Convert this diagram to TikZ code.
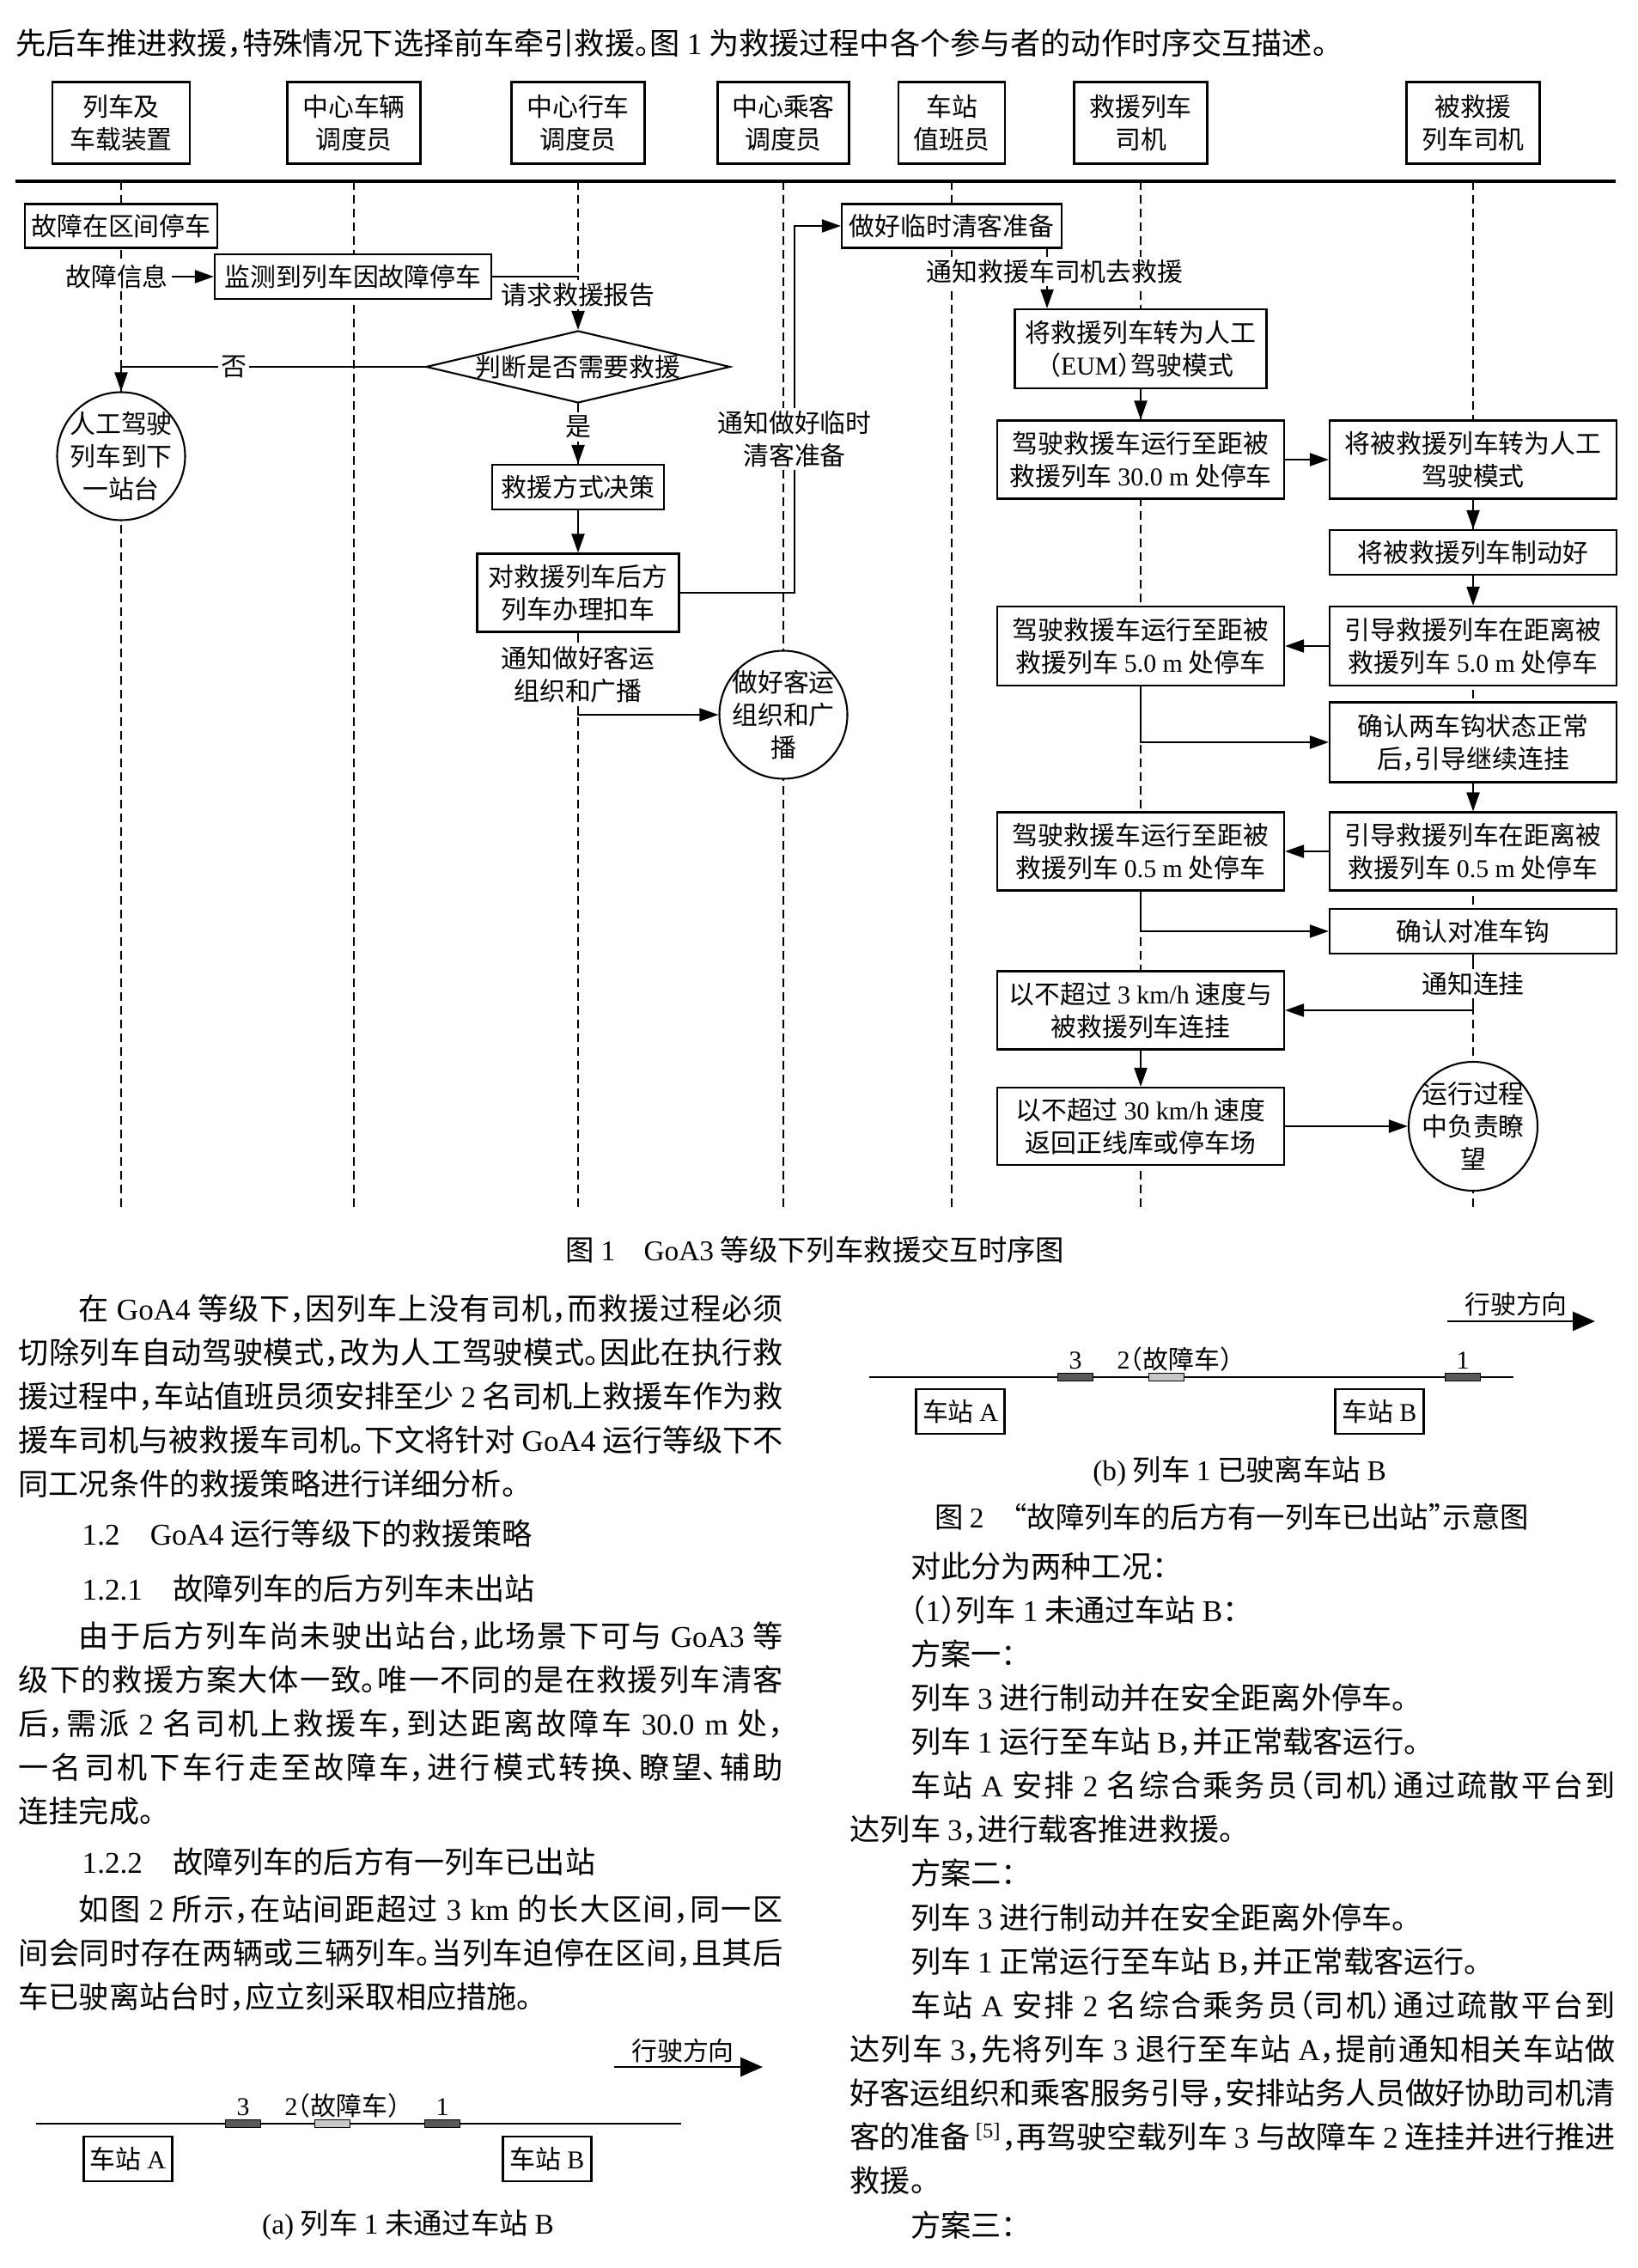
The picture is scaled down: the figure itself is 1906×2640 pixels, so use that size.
\documentclass[tikz,border=0pt]{standalone}
\usepackage{fontspec}
\setmainfont{Noto Sans CJK SC}[RawFeature={+halt}]
\newfontfamily\enfont{Liberation Serif}
\usetikzlibrary{arrows.meta,shapes.geometric,positioning}

\XeTeXlinebreaklocale "zh"
\XeTeXlinebreakskip=0pt plus 1pt minus 0.4pt
\tolerance=10000
\newcommand{\en}[1]{{\enfont #1}}

\begin{document}
\begin{tikzpicture}[
  x=0.1mm, y=-0.1mm,
  txt/.style={font=\fontsize{10}{14.55}\selectfont, inner sep=0pt},
  para/.style={txt, text width=89mm, align=justify, anchor=base west},
  textline/.style={txt, anchor=base west},
  caption/.style={font=\fontsize{9.5}{12}\selectfont, inner sep=0pt},
  dfont/.style={font=\fontsize{8.5}{10.8}\selectfont},
  role/.style={draw, dfont, align=center, line width=0.8pt, minimum width=15.5mm, minimum height=9.5mm, inner sep=0pt},
  box/.style={draw, fill=white, dfont, align=center, line width=0.6pt, minimum width=33.4mm, minimum height=9.1mm, inner sep=0pt},
  decision/.style={draw, fill=white, diamond, dfont, line width=0.6pt, minimum width=35.4mm, minimum height=8.4mm, inner sep=0pt},
  oval/.style={draw, fill=white, circle, dfont, align=center, line width=0.6pt, minimum size=14.9mm, inner sep=-2.5mm},
  lbl/.style={fill=white, dfont, align=center, inner sep=1pt},
  arrow/.style={->, >={Triangle[length=2.2mm, width=1.5mm]}, line width=0.6pt},
  life/.style={dash pattern=on 1mm off 0.6mm, line width=0.4pt},
  track/.style={line width=0.7pt},
  car/.style={draw, line width=0.4pt, minimum width=4.1mm, minimum height=0.9mm, inner sep=0pt},
  stn/.style={draw, dfont, line width=0.6pt, minimum width=10.3mm, minimum height=5.2mm, inner sep=0pt},
  dirarrow/.style={->, >={Triangle[length=2.6mm, width=2.2mm]}, line width=0.8pt},
]
\useasboundingbox (0,0) rectangle (1906,2640);

\node[textline] (lead) at (18,64) {先后车推进救援，特殊情况下选择前车牵引救援。图 \en{1} 为救援过程中各个参与者的动作时序交互描述。};

% --- participants ---
\node[role, minimum width=16mm] (train) at (141,143) {列车及\\车载装置};
\node[role] (vehdisp) at (412,143) {中心车辆\\调度员};
\node[role] (trafdisp) at (673,143) {中心行车\\调度员};
\node[role, minimum width=15.3mm] (paxdisp) at (912,143) {中心乘客\\调度员};
\node[role, minimum width=12.4mm] (station) at (1108,143) {车站\\值班员};
\node[role] (rescdrv) at (1328,143) {救援列车\\司机};
\node[role] (faildrv) at (1715,143) {被救援\\列车司机};

\coordinate (sepL) at (18,211);
\coordinate (sepR) at (1881,211);
\coordinate (lifeEnd) at (0,1407);
\draw[line width=1pt] (sepL) -- (sepR);

% lifelines
\draw[life] (train |- sepL) -- (train |- lifeEnd);
\draw[life] (vehdisp |- sepL) -- (vehdisp |- lifeEnd);
\draw[life] (trafdisp |- sepL) -- (trafdisp |- lifeEnd);
\draw[life] (paxdisp |- sepL) -- (paxdisp |- lifeEnd);
\draw[life] (station |- sepL) -- (station |- lifeEnd);
\draw[life] (rescdrv |- sepL) -- (rescdrv |- lifeEnd);
\draw[life] (faildrv |- sepL) -- (faildrv |- lifeEnd);

% --- fault and decision ---
\node[box, minimum width=22.4mm, minimum height=5.1mm] (fault) at (141,263) {故障在区间停车};
\node[box, minimum width=32.2mm, minimum height=5.2mm] (monitor) at (411,322) {监测到列车因故障停车};
\node[decision] (judge) at (673,427) {\makebox[0pt]{判断是否需要救援}};
\node[oval] (manual) at (141,531) {人工驾驶\\列车到下\\一站台};
\node[box, minimum width=20mm, minimum height=5.2mm] (decide) at (673,567) {救援方式决策};
\node[box, minimum width=23.5mm] (hold) at (673,690) {对救援列车后方\\列车办理扣车};
\node[oval] (service) at (912,832) {做好客运\\组织和广\\播};
\node[box, minimum width=25.6mm, minimum height=5.1mm] (clear) at (1108,263) {做好临时清客准备};
\coordinate (turn) at (925,263);

\node[lbl] (info) at (136,322) {故障信息};
\draw[arrow] (info.east) -- (monitor.west);
\draw[arrow] (monitor.east) -| (judge.north);
\node[lbl] (report) at (673,343) {请求救援报告};
% no -> manual driving
\draw[arrow] (judge.west) -| (manual.north);
\node[lbl] (no) at (272,427) {否};
% yes -> rescue
\draw[arrow] (judge.south) -- (decide.north);
\node[lbl] (yes) at (673,497) {是};
\draw[arrow] (decide.south) -- (hold.north);
\draw[arrow] (hold.east) -| (turn) -- (clear.west);
\node[lbl] (notify1) at (925,511) {通知做好临时\\清客准备};
\draw[arrow] (hold.south) |- (service.west);
\node[lbl] (notify2) at (673,785) {通知做好客运\\组织和广播};

% --- rescue drivers ---
\node[box, minimum width=29.3mm, minimum height=9.2mm] (eum) at (1328,406) {将救援列车转为人工\\（\en{EUM}）驾驶模式};
\node[box] (d30) at (1328,535) {驾驶救援车运行至距被\\救援列车 \en{30.0 m} 处停车};
\node[box] (m1) at (1715,535) {将被救援列车转为人工\\驾驶模式};
\node[box, minimum height=5.2mm] (brake) at (1715,643) {将被救援列车制动好};
\node[box, minimum height=9.2mm] (g5) at (1715,752) {引导救援列车在距离被\\救援列车 \en{5.0 m} 处停车};
\node[box, minimum height=9.2mm] (d5) at (1328,752) {驾驶救援车运行至距被\\救援列车 \en{5.0 m} 处停车};
\node[box, minimum height=9.3mm] (c1) at (1715,864) {确认两车钩状态正常\\后，引导继续连挂};
\node[box] (g05) at (1715,991) {引导救援列车在距离被\\救援列车 \en{0.5 m} 处停车};
\node[box] (d05) at (1328,991) {驾驶救援车运行至距被\\救援列车 \en{0.5 m} 处停车};
\node[box, minimum height=5.2mm] (hook) at (1715,1084) {确认对准车钩};
\node[box] (couple) at (1328,1176) {以不超过 \en{3 km/h} 速度与\\被救援列车连挂};
\node[box, minimum height=9mm] (back) at (1328,1311) {以不超过 \en{30 km/h} 速度\\返回正线库或停车场};
\node[oval, minimum size=15mm] (watch) at (1715,1311) {运行过程\\中负责瞭\\望};

\draw[arrow] ([xshift=11.1mm]clear.south) -- ([xshift=11.1mm]clear.south |- eum.north);
\node[lbl] (notify3) at (1228,316) {通知救援车司机去救援};
\draw[arrow] (eum.south) -- (d30.north);
\draw[arrow] (d30.east) -- (m1.west);
\draw[arrow] (m1.south) -- (brake.north);
\draw[arrow] (brake.south) -- (g5.north);
\draw[arrow] (g5.west) -- (d5.east);
\draw[arrow] (d5.south) |- (c1.west);
\draw[arrow] (c1.south) -- (g05.north);
\draw[arrow] (g05.west) -- (d05.east);
\draw[arrow] (d05.south) |- (hook.west);
\draw[arrow] (hook.south) |- (couple.east);
\node[lbl] (notify4) at (1715,1145) {通知连挂};
\draw[arrow] (couple.south) -- (back.north);
\draw[arrow] (back.east) -- (watch.west);

\node[caption] (fig1cap) at (949,1455) {图 \en{1}\quad \en{GoA3} 等级下列车救援交互时序图};

% --- left column ---
\node[para] (p1) at (21,1536) {\hspace*{2em}在 \en{GoA4} 等级下，因列车上没有司机，而救援过程必须\linebreak
切除列车自动驾驶模式，改为人工驾驶模式。因此在执行救\linebreak
援过程中，车站值班员须安排至少 \en{2} 名司机上救援车作为救\linebreak
援车司机与被救援车司机。下文将针对 \en{GoA4} 运行等级下不\linebreak
同工况条件的救援策略进行详细分析。};
\node[textline] (h1) at (95,1798) {\en{1.2}\quad \en{GoA4} 运行等级下的救援策略};
\node[textline] (h2) at (95,1862) {\en{1.2.1}\quad 故障列车的后方列车未出站};
\node[para] (p2) at (21,1917) {\hspace*{2em}由于后方列车尚未驶出站台，此场景下可与 \en{GoA3} 等\linebreak
级下的救援方案大体一致。唯一不同的是在救援列车清客\linebreak
后，需派 \en{2} 名司机上救援车，到达距离故障车 \en{30.0 m} 处，\linebreak
一名司机下车行走至故障车，进行模式转换、瞭望、辅助\linebreak
连挂完成。};
\node[textline] (h3) at (95,2180) {\en{1.2.2}\quad 故障列车的后方有一列车已出站};
\node[para] (p3) at (21,2235) {\hspace*{2em}如图 \en{2} 所示，在站间距超过 \en{3 km} 的长大区间，同一区\linebreak
间会同时存在两辆或三辆列车。当列车迫停在区间，且其后\linebreak
车已驶离站台时，应立刻采取相应措施。};

% --- Fig. 2 (a) ---
\coordinate (adirS) at (715,2406);
\coordinate (adirE) at (888,2406);
\draw[dirarrow] (adirS) -- (adirE);
\node[dfont] (adir) at (795,2387) {行驶方向};
\coordinate (atrackL) at (42,2472);
\coordinate (atrackR) at (793,2472);
\draw[track] (atrackL) -- (atrackR);
\node[car, fill=black!65] (a3) at (283,2472) {};
\node[car, fill=black!22] (a2) at (387,2472) {};
\node[car, fill=black!65] (a1) at (515,2472) {};
\node[dfont, anchor=base west, inner sep=0pt] (a2lbl) at (331,2462) {\en{2}（故障车）};
\node[dfont, anchor=base, inner sep=0pt] (a3lbl) at (a3 |- a2lbl.base) {\en{3}};
\node[dfont, anchor=base, inner sep=0pt] (a1lbl) at (a1 |- a2lbl.base) {\en{1}};
\node[stn] (aA) at (149,2513) {车站 \en{A}};
\node[stn] (aB) at (637,2513) {车站 \en{B}};
\node[caption] (acap) at (475,2590) {\en{(a)} 列车 \en{1} 未通过车站 \en{B}};

% --- Fig. 2 (b) ---
\coordinate (bdirS) at (1685,1538);
\coordinate (bdirE) at (1857,1538);
\draw[dirarrow] (bdirS) -- (bdirE);
\node[dfont] (bdir) at (1765,1518) {行驶方向};
\coordinate (btrackL) at (1012,1603);
\coordinate (btrackR) at (1762,1603);
\draw[track] (btrackL) -- (btrackR);
\node[car, fill=black!65] (b3) at (1252,1603) {};
\node[car, fill=black!22] (b2) at (1358,1603) {};
\node[car, fill=black!65] (b1) at (1703,1603) {};
\node[dfont, anchor=base west, inner sep=0pt] (b2lbl) at (1300,1593) {\en{2}（故障车）};
\node[dfont, anchor=base, inner sep=0pt] (b3lbl) at (b3 |- b2lbl.base) {\en{3}};
\node[dfont, anchor=base, inner sep=0pt] (b1lbl) at (b1 |- b2lbl.base) {\en{1}};
\node[stn] (bA) at (1118,1643) {车站 \en{A}};
\node[stn] (bB) at (1606,1643) {车站 \en{B}};
\node[caption] (bcap) at (1443,1713) {\en{(b)} 列车 \en{1} 已驶离车站 \en{B}};
\node[caption] (fig2cap) at (1434,1766) {图 \en{2}\quad “故障列车的后方有一列车已出站”示意图};

% --- right column ---
\node[para, text width=89.1mm] (right) at (989,1836) {\hspace*{2em}对此分为两种工况：\par
\hspace*{2em}（\en{1}）列车 \en{1} 未通过车站 \en{B}：\par
\hspace*{2em}方案一：\par
\hspace*{2em}列车 \en{3} 进行制动并在安全距离外停车。\par
\hspace*{2em}列车 \en{1} 运行至车站 \en{B}，并正常载客运行。\par
\hspace*{2em}车站 \en{A} 安排 \en{2} 名综合乘务员（司机）通过疏散平台到\linebreak
达列车 \en{3}，进行载客推进救援。\par
\hspace*{2em}方案二：\par
\hspace*{2em}列车 \en{3} 进行制动并在安全距离外停车。\par
\hspace*{2em}列车 \en{1} 正常运行至车站 \en{B}，并正常载客运行。\par
\hspace*{2em}车站 \en{A} 安排 \en{2} 名综合乘务员（司机）通过疏散平台到\linebreak
达列车 \en{3}，先将列车 \en{3} 退行至车站 \en{A}，提前通知相关车站做\linebreak
好客运组织和乘客服务引导，安排站务人员做好协助司机清\linebreak
客的准备\,\textsuperscript{\en{[5]}}，再驾驶空载列车 \en{3} 与故障车 \en{2} 连挂并进行推进\linebreak
救援。\par
\hspace*{2em}方案三：};
\end{tikzpicture}
\end{document}
